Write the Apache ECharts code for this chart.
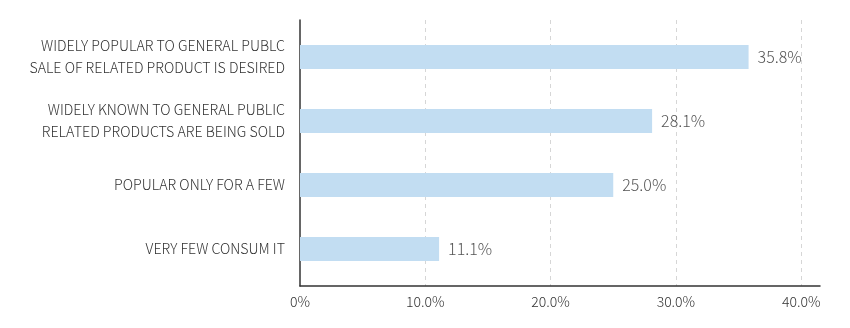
<!DOCTYPE html>
<html>
<head>
<meta charset="utf-8">
<script src="https://cdn.jsdelivr.net/npm/echarts@6/dist/echarts.min.js"></script>
<style>
  html, body { margin: 0; padding: 0; background: #fff; }
  #chart { width: 850px; height: 328px; }
</style>
</head>
<body>
<div id="chart"></div>
<script>
// Survey answers, listed bottom to top as the category axis draws them
const categories = [
  'VERY FEW CONSUM IT',
  'POPULAR ONLY FOR A FEW',
  'WIDELY KNOWN TO GENERAL PUBLIC\nRELATED PRODUCTS ARE BEING SOLD',
  'WIDELY POPULAR TO GENERAL PUBLC\nSALE OF RELATED PRODUCT IS DESIRED'
];
const shares = [11.1, 25.0, 28.1, 35.8];
const tickValues = [0, 10, 20, 30, 40];

const FONT = '"Noto Sans CJK KR", "Noto Sans", sans-serif';
const AXIS_MAX = 41.5;

const chart = echarts.init(document.getElementById('chart'), null, { renderer: 'canvas' });

chart.setOption({
  animation: false,
  grid: [
    // frame: axis lines, dashed guides and tick labels
    { left: 300, right: 30, top: 20, bottom: 42 },
    // bars and category labels
    { left: 300, right: 30, top: 25, bottom: 47 }
  ],
  xAxis: [
    {
      gridIndex: 0,
      type: 'value',
      min: 0,
      max: AXIS_MAX,
      interval: 10,
      axisLine: { show: true, lineStyle: { color: '#333', width: 1.5 } },
      axisTick: { show: false },
      axisLabel: {
        showMaxLabel: false,
        margin: 9,
        color: '#333',
        fontFamily: FONT,
        fontWeight: 300,
        fontSize: 14,
        formatter: v => tickValues.indexOf(v) === -1 ? '' : (v === 0 ? '0%' : v.toFixed(1) + '%')
      },
      splitLine: {
        show: true,
        showMinLine: false,
        showMaxLine: false,
        lineStyle: { color: '#d6d6d6', type: [4, 4], width: 1 }
      }
    },
    {
      gridIndex: 1,
      type: 'value',
      min: 0,
      max: AXIS_MAX,
      show: false
    }
  ],
  yAxis: [
    {
      gridIndex: 0,
      type: 'value',
      min: 0,
      max: 1,
      axisLine: { show: true, onZero: false, lineStyle: { color: '#333', width: 1.5 } },
      axisTick: { show: false },
      axisLabel: { show: false },
      splitLine: { show: false }
    },
    {
      gridIndex: 1,
      type: 'category',
      data: categories,
      axisLine: { show: false },
      axisTick: { show: false },
      splitLine: { show: false },
      axisLabel: {
        margin: 15,
        color: '#333',
        fontFamily: FONT,
        fontWeight: 300,
        fontSize: 14.2,
        lineHeight: 22
      }
    }
  ],
  series: [
    {
      type: 'bar',
      xAxisIndex: 1,
      yAxisIndex: 1,
      data: shares,
      barWidth: 24,
      itemStyle: { color: '#c2ddf2' },
      label: {
        show: true,
        position: 'right',
        distance: 9,
        color: '#555',
        fontFamily: FONT,
        fontWeight: 300,
        fontSize: 16,
        formatter: p => p.value.toFixed(1) + '%'
      }
    }
  ]
});
</script>
</body>
</html>
